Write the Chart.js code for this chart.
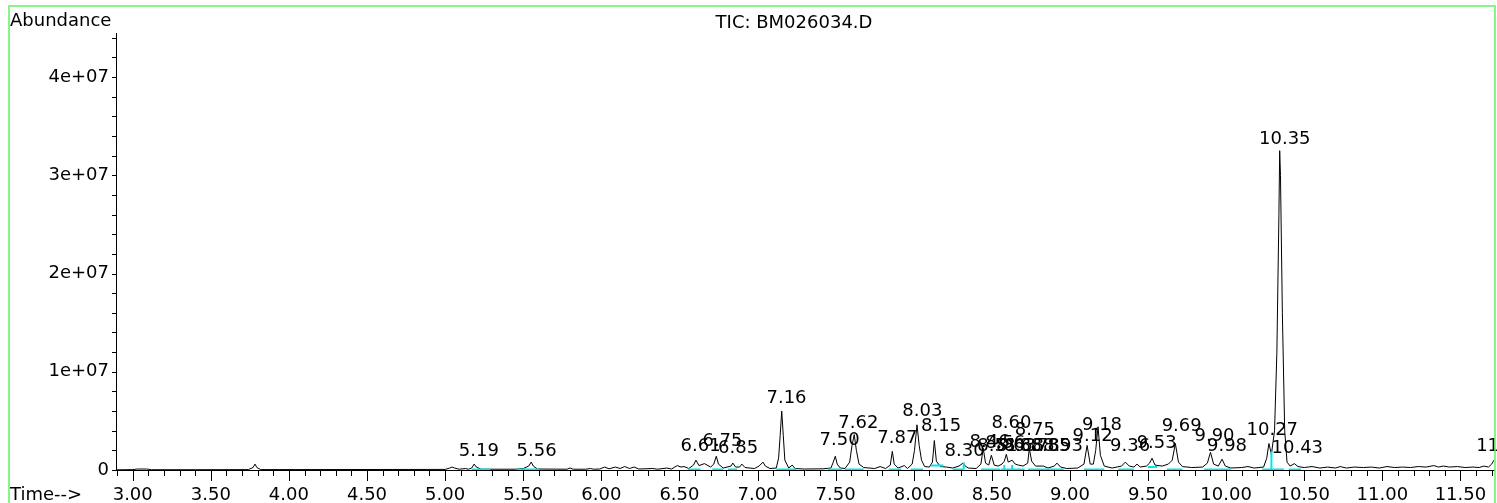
<!DOCTYPE html>
<html>
<head>
<meta charset="utf-8">
<script src="https://cdn.jsdelivr.net/npm/chart.js@4"></script>
<style>
  html, body { margin: 0; padding: 0; background: #fff; }
  #wrap { width: 1497px; height: 503px; position: relative; }
</style>
</head>
<body>
<div id="wrap"><canvas id="tic"></canvas></div>
<script>
// TIC trace, time in minutes, abundance in millions
var traceTime = [2.893, 2.95, 3.00, 3.03, 3.09, 3.12, 3.40, 3.74, 3.77, 3.783, 3.795, 3.82, 4.50, 5.00, 5.03, 5.045, 5.06, 5.09, 5.13, 5.15,
  5.17, 5.186, 5.20, 5.23, 5.45, 5.50, 5.535, 5.551, 5.565, 5.59, 5.78, 5.80, 5.82, 5.90, 5.93, 5.95, 5.99, 6.02, 6.05, 6.09,
  6.12, 6.15, 6.18, 6.21, 6.24, 6.33, 6.36, 6.42, 6.45, 6.486, 6.51, 6.53, 6.56, 6.59, 6.606, 6.625, 6.66, 6.70, 6.72, 6.736,
  6.75, 6.78, 6.83, 6.842, 6.86, 6.885, 6.90, 6.92, 6.98, 7.01, 7.035, 7.05, 7.08, 7.12, 7.135, 7.145, 7.155, 7.165, 7.175, 7.20,
  7.222, 7.24, 7.30, 7.42, 7.47, 7.485, 7.498, 7.51, 7.53, 7.56, 7.59, 7.605, 7.619, 7.633, 7.65, 7.68, 7.75, 7.785, 7.82, 7.85,
  7.863, 7.875, 7.90, 7.94, 7.96, 7.99, 8.005, 8.021, 8.035, 8.05, 8.07, 8.10, 8.12, 8.132, 8.145, 8.17, 8.21, 8.25, 8.29, 8.316,
  8.33, 8.35, 8.40, 8.43, 8.445, 8.46, 8.48, 8.497, 8.515, 8.54, 8.565, 8.58, 8.593, 8.605, 8.63, 8.65, 8.67, 8.70, 8.73, 8.74,
  8.755, 8.78, 8.83, 8.86, 8.90, 8.917, 8.94, 8.98, 9.05, 9.09, 9.11, 9.13, 9.15, 9.165, 9.18, 9.195, 9.22, 9.27, 9.33, 9.355,
  9.38, 9.41, 9.43, 9.45, 9.49, 9.51, 9.526, 9.545, 9.59, 9.63, 9.655, 9.675, 9.695, 9.72, 9.78, 9.85, 9.88, 9.90, 9.92, 9.95,
  9.974, 9.995, 10.03, 10.10, 10.14, 10.18, 10.24, 10.26, 10.274, 10.29, 10.31, 10.325, 10.338, 10.343, 10.348, 10.36, 10.375, 10.39, 10.41, 10.437,
  10.46, 10.50, 10.55, 10.60, 10.65, 10.70, 10.73, 10.77, 10.82, 10.88, 10.93, 10.98, 11.03, 11.08, 11.13, 11.18, 11.23, 11.28, 11.33, 11.36,
  11.39, 11.43, 11.48, 11.53, 11.58, 11.62, 11.65, 11.68, 11.70, 11.715];
var traceAbund = [0.02, 0.03, 0.04, 0.10, 0.10, 0.03, 0.03, 0.04, 0.25, 0.60, 0.25, 0.04, 0.05, 0.06, 0.20, 0.30, 0.20, 0.08, 0.15, 0.08,
  0.20, 0.60, 0.30, 0.08, 0.08, 0.15, 0.40, 0.80, 0.40, 0.10, 0.08, 0.20, 0.08, 0.08, 0.15, 0.08, 0.10, 0.30, 0.12, 0.30,
  0.15, 0.35, 0.15, 0.30, 0.10, 0.15, 0.08, 0.20, 0.10, 0.45, 0.30, 0.35, 0.15, 0.50, 1.00, 0.45, 0.65, 0.30, 0.60, 1.40,
  0.60, 0.20, 0.40, 0.70, 0.30, 0.30, 0.60, 0.25, 0.15, 0.40, 0.80, 0.40, 0.15, 0.20, 1.20, 3.50, 6.00, 3.50, 1.00, 0.20,
  0.50, 0.15, 0.10, 0.12, 0.20, 0.80, 1.40, 0.60, 0.20, 0.15, 0.80, 2.50, 3.60, 2.00, 0.60, 0.25, 0.15, 0.35, 0.15, 0.50,
  1.90, 0.60, 0.20, 0.45, 0.15, 0.60, 2.00, 4.60, 2.50, 1.00, 0.35, 0.30, 0.80, 3.00, 0.90, 0.35, 0.30, 0.20, 0.40, 0.70,
  0.40, 0.20, 0.15, 0.60, 2.20, 0.70, 0.50, 1.50, 0.50, 0.40, 0.60, 0.90, 1.60, 0.80, 1.00, 0.60, 0.50, 0.40, 0.70, 2.20,
  0.90, 0.40, 0.40, 0.20, 0.40, 0.70, 0.30, 0.15, 0.20, 0.60, 2.50, 0.60, 0.60, 2.00, 4.40, 1.50, 0.40, 0.20, 0.40, 0.80,
  0.40, 0.30, 0.60, 0.30, 0.40, 0.70, 1.20, 0.50, 0.40, 0.60, 1.00, 2.70, 0.80, 0.35, 0.25, 0.30, 0.70, 1.80, 0.60, 0.40,
  1.10, 0.40, 0.20, 0.25, 0.35, 0.20, 0.30, 1.20, 2.70, 1.60, 4.00, 12.0, 26.0, 32.5, 30.0, 16.0, 4.00, 0.80, 0.40, 0.65,
  0.35, 0.25, 0.35, 0.20, 0.30, 0.20, 0.35, 0.20, 0.30, 0.25, 0.30, 0.20, 0.35, 0.25, 0.30, 0.25, 0.35, 0.30, 0.45, 0.30,
  0.40, 0.30, 0.35, 0.25, 0.30, 0.25, 0.40, 0.30, 0.60, 1.00];

// integration baselines (cyan)
var cyanStart = [5.17, 5.46, 6.556, 6.71, 6.81, 7.12, 7.45, 7.56, 7.84, 7.98, 8.11, 8.25, 8.43, 8.56, 8.73, 9.09, 9.31, 9.50, 9.62, 9.86, 10.23, 10.40];
var cyanEnd   = [5.29, 5.60, 6.635, 6.78, 6.87, 7.25, 7.54, 7.68, 7.92, 8.06, 8.19, 8.32, 8.555, 8.71, 8.96, 9.22, 9.41, 9.56, 9.72, 10.03, 10.37, 10.48];
var cyanLevel = [0.05, 0.05, 0.05, 0.05, 0.05, 0.05, 0.05, 0.05, 0.05, 0.05, 0.45, 0.05, 0.05, 0.05, 0.05, 0.05, 0.05, 0.30, 0.05, 0.05, 0.05, 0.05];
var dropTime = [8.32, 8.58, 8.63, 10.29];
var dropTop  = [0.80, 0.50, 0.50, 1.90];

// peak annotations: label text and the abundance where the text sits
var peakLabels = ['5.19', '5.56', '6.61', '6.75', '6.85', '7.16', '7.50', '7.62', '7.87', '8.03', '8.15', '8.30', '8.46', '8.51', '8.56', '8.60', '8.63',
  '8.68', '8.75', '8.78', '8.85', '8.93', '9.12', '9.18', '9.36', '9.53', '9.69', '9.90', '9.98', '10.27', '10.35', '10.43', '11.74'];
var peakLevel = [1.47, 1.47, 1.91, 2.49, 1.75, 6.84, 2.59, 4.29, 2.70, 5.47, 3.95, 1.47, 2.36, 1.91, 2.20, 4.29, 1.91,
  1.91, 3.61, 1.91, 1.91, 1.91, 2.93, 4.12, 1.91, 2.26, 3.95, 2.93, 1.91, 3.61, 33.2, 1.68, 1.91];

// axes
var xMajorValues = [3.0, 3.5, 4.0, 4.5, 5.0, 5.5, 6.0, 6.5, 7.0, 7.5, 8.0, 8.5, 9.0, 9.5, 10.0, 10.5, 11.0, 11.5];
var xTickLabels = ['3.00', '3.50', '4.00', '4.50', '5.00', '5.50', '6.00', '6.50', '7.00', '7.50', '8.00', '8.50', '9.00', '9.50', '10.00', '10.50', '11.00', '11.50'];
var yMajorValues = [0, 10, 20, 30, 40];
var yTickLabels = ['0', '1e+07', '2e+07', '3e+07', '4e+07'];

var FONT = '18px "DejaVu Sans"';

// build datasets
var tracePoints = traceTime.map(function(t, i) { return { x: t, y: traceAbund[i] }; });
var cyanPoints = [];
cyanStart.forEach(function(s, i) {
    cyanPoints.push({ x: s, y: cyanLevel[i] }, { x: cyanEnd[i], y: cyanLevel[i] }, { x: cyanEnd[i], y: null });
});
dropTime.forEach(function(t, i) {
    cyanPoints.push({ x: t, y: 0.05 }, { x: t, y: dropTop[i] }, { x: t, y: null });
});

function labelFor(list, labels, v) {
    for (var i = 0; i < list.length; i++) {
        if (Math.abs(list[i] - v) < 1e-6) return labels[i];
    }
    return '';
}

// tick marks, titles, peak labels and the green frame
var decorPlugin = {
    id: 'decor',
    afterDraw: function(chart) {
        var ctx = chart.ctx;
        var xs = chart.scales.x, ys = chart.scales.y;
        var area = chart.chartArea;
        ctx.save();
        ctx.strokeStyle = '#000';
        ctx.lineWidth = 1;
        ctx.beginPath();
        xs.ticks.forEach(function(tk) {
            var px = Math.round(xs.getPixelForValue(tk.value)) + 0.5;
            var len = labelFor(xMajorValues, xTickLabels, tk.value) ? 11 : 6;
            ctx.moveTo(px, area.bottom);
            ctx.lineTo(px, area.bottom + len);
        });
        ys.ticks.forEach(function(tk) {
            var py = Math.round(ys.getPixelForValue(tk.value)) + 0.5;
            ctx.moveTo(area.left - 4, py);
            ctx.lineTo(area.left, py);
        });
        ctx.stroke();

        ctx.fillStyle = '#000';
        ctx.font = FONT;
        ctx.textBaseline = 'alphabetic';
        ctx.textAlign = 'left';
        ctx.fillText('Abundance', 10, 26);
        ctx.fillText('Time-->', 10, 500);
        ctx.textAlign = 'center';
        ctx.fillText('TIC: BM026034.D', 794, 28);

        peakLabels.forEach(function(txt, i) {
            var px = xs.getPixelForValue(parseFloat(txt)) + 4;
            var py = ys.getPixelForValue(peakLevel[i]);
            ctx.fillText(txt, px, py);
        });

        ctx.strokeStyle = '#5cf55c';
        ctx.lineWidth = 1.5;
        ctx.strokeRect(9, 6, 1486, 520);
        ctx.restore();
    }
};

var ctx = document.getElementById('tic').getContext('2d');
var chart = new Chart(ctx, {
    type: 'line',
    data: {
        datasets: [{
            data: cyanPoints,
            borderColor: '#00e5ee',
            borderWidth: 2,
            pointRadius: 0,
            spanGaps: false
        }, {
            data: tracePoints,
            borderColor: '#000',
            borderWidth: 1,
            pointRadius: 0,
            tension: 0
        }]
    },
    options: {
        responsive: true,
        maintainAspectRatio: false,
        animation: false,
        layout: { padding: { top: 33, right: 3, left: 0, bottom: 0 } },
        plugins: { legend: { display: false }, tooltip: { enabled: false } },
        scales: {
            x: {
                type: 'linear',
                min: 2.893,
                max: 11.715,
                grid: { display: false, drawTicks: false },
                border: { display: true, color: '#000', width: 1 },
                afterBuildTicks: function(scale) {
                    var t = [];
                    for (var i = 29; i <= 117; i++) t.push({ value: i / 10 });
                    scale.ticks = t;
                },
                afterFit: function(scale) {
                    scale.height = 33;
                    scale.paddingLeft = 0;
                    scale.paddingRight = 0;
                },
                ticks: {
                    autoSkip: false,
                    maxRotation: 0,
                    padding: 15,
                    color: '#000',
                    font: { family: 'DejaVu Sans', size: 18 },
                    callback: function(v) { return labelFor(xMajorValues, xTickLabels, v); }
                }
            },
            y: {
                type: 'linear',
                min: 0,
                max: 44.48,
                grid: { display: false, drawTicks: false },
                border: { display: true, color: '#000', width: 1 },
                afterBuildTicks: function(scale) {
                    var t = [];
                    for (var i = 0; i <= 44; i += 2) t.push({ value: i });
                    scale.ticks = t;
                },
                afterFit: function(scale) {
                    scale.width = 116;
                    scale.paddingTop = 0;
                    scale.paddingBottom = 0;
                },
                ticks: {
                    autoSkip: false,
                    padding: 7,
                    color: '#000',
                    font: { family: 'DejaVu Sans', size: 18 },
                    callback: function(v) { return labelFor(yMajorValues, yTickLabels, v); }
                }
            }
        }
    },
    plugins: [decorPlugin]
});
</script>
</body>
</html>
